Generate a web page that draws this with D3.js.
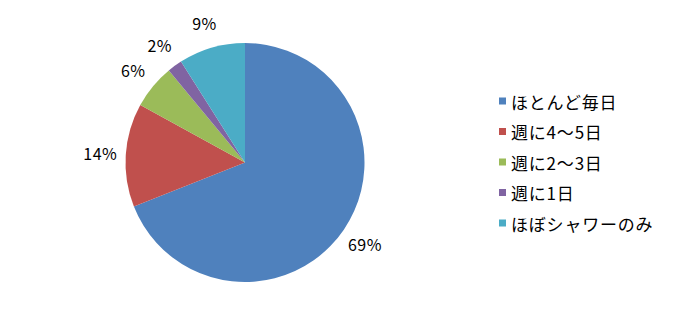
<!DOCTYPE html>
<html><head><meta charset="utf-8">
<script src="https://cdn.jsdelivr.net/npm/d3@7"></script>
<style>body{margin:0;background:#fff;}svg{display:block;}</style>
</head><body>
<script>
const categories = ["ほとんど毎日", "週に4～5日", "週に2～3日", "週に1日", "ほぼシャワーのみ"];
const values = [69, 14, 6, 2, 9];
const labels = ["69%", "14%", "6%", "2%", "9%"];
const colors = ["#4F81BD", "#C0504D", "#9BBB59", "#8064A2", "#4BACC6"];

const W = 674, H = 325;
const svg = d3.select("body").append("svg").attr("width", W).attr("height", H);
const font = "'Noto Sans CJK JP', 'Noto Sans', sans-serif";
const cx = 245, cy = 162.5, r = 119.5, lr = 145;

const pie = d3.pie().sort(null).value(d => d)(values);
const arc = d3.arc().innerRadius(0).outerRadius(r);
const g = svg.append("g").attr("transform", `translate(${cx},${cy})`);
g.selectAll("path").data(pie).join("path")
  .attr("d", arc).attr("fill", (d, i) => colors[i]);
const larc = d3.arc().innerRadius(lr).outerRadius(lr);
g.selectAll("text").data(pie).join("text")
  .attr("transform", d => `translate(${larc.centroid(d)})`)
  .attr("text-anchor", "middle").attr("dominant-baseline", "central")
  .attr("font-family", font).attr("font-size", 16).attr("letter-spacing", 0.5).attr("fill", "#000")
  .text((d, i) => labels[i]);

const y = d3.scalePoint().domain(categories).range([101, 223]);
const lg = svg.append("g");
const items = lg.selectAll("g").data(categories).join("g")
  .attr("transform", d => `translate(499,${y(d)})`);
items.append("rect").attr("x", 0).attr("y", -3.5).attr("width", 7).attr("height", 7)
  .attr("fill", (d, i) => colors[i]);
items.append("text").attr("x", 12).attr("y", 0)
  .attr("dominant-baseline", "central")
  .attr("font-family", font).attr("font-size", 17).attr("letter-spacing", 0.8).attr("fill", "#000")
  .text(d => d);
</script>
</body></html>
